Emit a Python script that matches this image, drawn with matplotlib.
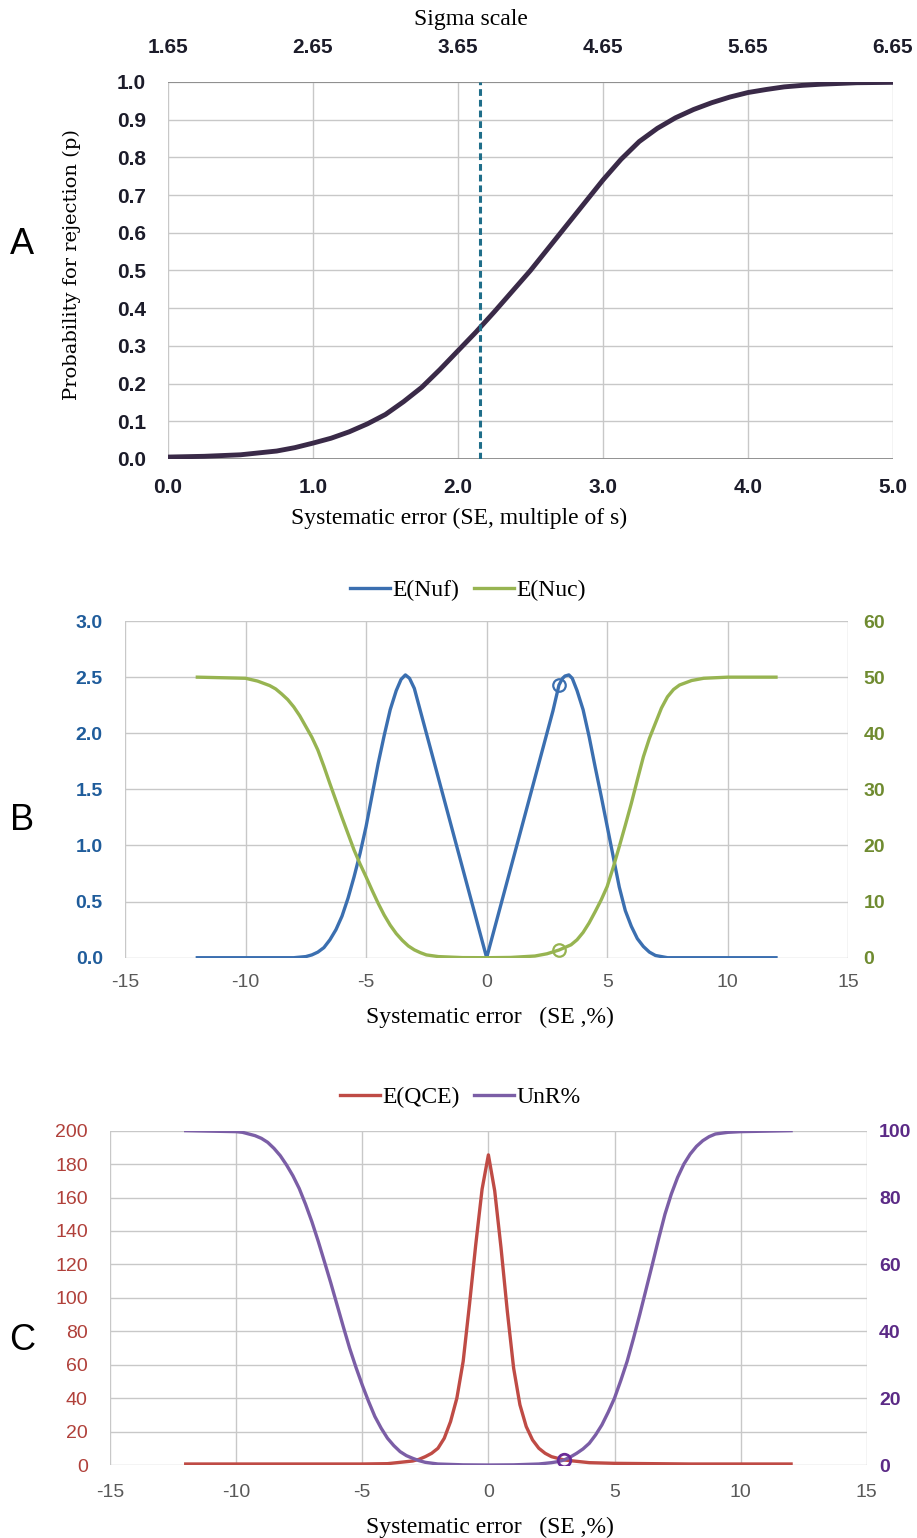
import matplotlib
matplotlib.use("Agg")
import matplotlib.pyplot as plt

# ---- panel A: probability for rejection vs systematic error
A_SE = [0.0, 0.25, 0.5, 0.75, 0.875, 1.0, 1.125, 1.25, 1.375, 1.5, 1.625, 1.75, 1.875,
        2.0, 2.125, 2.25, 2.375, 2.5, 2.625, 2.75, 2.875, 3.0, 3.125, 3.25, 3.375, 3.5,
        3.625, 3.75, 3.875, 4.0, 4.125, 4.25, 4.375, 4.5, 4.75, 5.0]
A_P = [0.005, 0.007, 0.011, 0.021, 0.03, 0.042, 0.055, 0.072, 0.093, 0.118, 0.152,
       0.19, 0.237, 0.287, 0.337, 0.39, 0.445, 0.5, 0.56, 0.62, 0.68, 0.74, 0.795, 0.842,
       0.877, 0.905, 0.927, 0.945, 0.96, 0.972, 0.98, 0.987, 0.991, 0.994, 0.998, 0.999]
A_CRIT = 2.15
A_TICKS = [0.0, 1.0, 2.0, 3.0, 4.0, 5.0]
SIGMA_LABELS = ["1.65", "2.65", "3.65", "4.65", "5.65", "6.65"]

# ---- panel B: E(Nuf) (left axis) and E(Nuc) (right axis)
B_NUF_X = [-12, -10, -8, -7.5, -7.25, -7, -6.75, -6.5, -6.25, -6, -5.75, -5.5, -5.25,
           -5, -4.75, -4.5, -4.25, -4, -3.75, -3.55, -3.37, -3.2, -3, -2.75, -2.5, -2,
           -1.5, -1, -0.5, 0, 0.5, 1, 1.5, 2, 2.5, 2.75, 3.0, 3.15, 3.25, 3.41, 3.55,
           3.75, 4, 4.25, 4.5, 4.75, 5, 5.25, 5.5, 5.75, 6, 6.25, 6.5, 6.75, 7, 7.5, 8,
           10, 12]
B_NUF = [0, 0, 0, 0.01, 0.025, 0.05, 0.09, 0.16, 0.25, 0.37, 0.53, 0.72, 0.93,
         1.17, 1.45, 1.73, 1.98, 2.21, 2.38, 2.48, 2.52, 2.49, 2.40, 2.2, 2.0, 1.6,
         1.2, 0.8, 0.4, 0, 0.4, 0.8, 1.2, 1.6, 2.0, 2.2, 2.43, 2.49, 2.51, 2.52, 2.49,
         2.38, 2.21, 1.97, 1.70, 1.44, 1.17, 0.9, 0.63, 0.42, 0.28, 0.17, 0.1, 0.05,
         0.02, 0, 0, 0, 0]
B_NUC_X = [-12, -10, -9.5, -9, -8.75, -8.5, -8.25, -8, -7.75, -7.5, -7.25, -7, -6.75,
           -6.5, -6.25, -6, -5.75, -5.5, -5.25, -5, -4.75, -4.5, -4.25, -4, -3.75, -3.5,
           -3.25, -3, -2.75, -2.5, -2, -1, 0, 1, 2, 2.5, 3, 3.5, 3.75, 4, 4.25, 4.5,
           4.75, 5, 5.25, 5.5, 5.75, 6, 6.25, 6.5, 6.75, 7, 7.25, 7.5, 7.75, 8, 8.5, 9,
           10, 12]
B_NUC = [50, 49.8, 49.3, 48.5, 47.9, 47, 46, 44.7, 43.1, 41.2, 39.3, 37, 34.1,
         31, 28, 25, 22.1, 19.2, 16.7, 14.4, 12, 9.7, 7.6, 5.8, 4.3, 3.1,
         2.1, 1.4, 0.9, 0.5, 0.2, 0.02, 0, 0.05, 0.3, 0.7, 1.37, 2.3, 3.2, 4.5, 6.2, 8.2,
         10.3, 12.7, 16.1, 19.8, 23.6, 27.5, 31.7, 35.8, 39.1, 41.8, 44.5, 46.5, 47.8,
         48.6, 49.4, 49.8, 50, 50]
B_MARK_X = 3.0
B_MARK_NUF = 2.43
B_MARK_NUC = 1.37

# ---- panel C: E(QCE) (left axis) and UnR% (right axis)
C_QCE_X = [-12, -8, -5, -4, -3, -2.75, -2.5, -2.25, -2, -1.75, -1.5, -1.25, -1, -0.75,
           -0.5, -0.25, 0, 0.25, 0.5, 0.75, 1, 1.25, 1.5, 1.75, 2, 2.25, 2.5, 2.75, 3,
           4, 5, 8, 12]
C_QCE = [0.6, 0.6, 0.6, 0.8, 2.4, 3.4, 5, 7, 10, 16, 26, 40, 62, 96,
         132, 165, 185.5, 164, 130, 92, 58, 36, 23, 15, 10, 7, 5, 4, 3,
         1.4, 1, 0.6, 0.6]
C_UNR_X = [-12, -10, -9.75, -9.5, -9.25, -9, -8.75, -8.5, -8.25, -8, -7.75, -7.5, -7.25,
           -7, -6.75, -6.5, -6.25, -6, -5.75, -5.5, -5.25, -5, -4.75, -4.5, -4.25, -4,
           -3.75, -3.5, -3.25, -3, -2.75, -2.5, -2, -1, 0, 1, 2, 2.5, 2.75, 3, 3.25,
           3.5, 3.75, 4, 4.25, 4.5, 4.75, 5, 5.25, 5.5, 5.75, 6, 6.25, 6.5, 6.75, 7,
           7.25, 7.5, 7.75, 8, 8.25, 8.5, 8.75, 9, 9.5, 10, 12]
C_UNR = [100, 99.7, 99.5, 99, 98.5, 97.7, 96.5, 94.7, 92.5, 89.7, 86.5, 82.7, 78,
         72.8, 67, 60.8, 54.5, 47.9, 41.3, 34.9, 29.2, 23.9, 19, 14.5, 11, 8,
         5.8, 4, 2.8, 2, 1.3, 0.8, 0.3, 0.05, 0, 0.05, 0.3, 0.7, 1.0, 1.5, 2.4,
         3.5, 4.8, 6.5, 9, 12, 15.8, 20, 25.3, 31, 37.8, 45, 52.5, 60, 67.7, 75,
         81, 86, 90, 93, 95.3, 97, 98.2, 99, 99.5, 99.7, 100]
C_MARK_X = 3.0
C_MARK_UNR = 1.5

SE_PCT_TICKS = [-15, -10, -5, 0, 5, 10, 15]

SANS = ["Liberation Sans", "DejaVu Sans"]
SERIF = ["Liberation Serif", "DejaVu Serif"]
GRID = "#c8c8c8"


def style_box(ax):
    for s in ax.spines.values():
        s.set_visible(False)
    ax.grid(True, color=GRID, lw=1.0)
    ax.set_axisbelow(True)
    ax.tick_params(length=0)


fig = plt.figure(figsize=(9.17, 15.38), dpi=100)

# ---------------- A
axA = fig.add_axes([0.1832, 0.7016, 0.7906, 0.2451])
style_box(axA)
axA.axhline(1.0, color="#8a8a8a", lw=1.3, zorder=1)
axA.axhline(0.0, color="#8a8a8a", lw=1.3, zorder=1)
axA.plot(A_SE, A_P, color="#3a2a48", lw=3.5, solid_capstyle="round",
         solid_joinstyle="round", zorder=3)
axA.axvline(A_CRIT, color="#1f6e8a", lw=2.2, ls=(0, (2.2, 1.3)), zorder=4)
axA.set_xlim(0, 5)
axA.set_ylim(0, 1)
ink = "#1c1c2a"
tick_kw = dict(fontfamily=SANS, fontweight="bold", fontsize=15, color=ink)
axA.set_xticks(A_TICKS, [f"{v:.1f}" for v in A_TICKS], **tick_kw)
yt = [i / 10 for i in range(11)]
axA.set_yticks(yt, [f"{v:.1f}" for v in yt], **tick_kw)
axA.tick_params(axis="x", pad=14)
axA.tick_params(axis="y", pad=16)
topA = axA.twiny()
topA.set_xlim(0, 5)
topA.set_xticks(A_TICKS, SIGMA_LABELS, **tick_kw)
topA.tick_params(length=0, pad=18)
for s in topA.spines.values():
    s.set_visible(False)
fig.text(471 / 917, 1 - 20 / 1538, "Sigma scale", ha="center", va="center",
         fontsize=17, family=SERIF)
fig.text(459 / 917, 1 - 518 / 1538, "Systematic error (SE, multiple of s)", ha="center",
         va="center", fontsize=17, family=SERIF)
fig.text(72 / 917, 1 - 265 / 1538, "Probability for rejection (p)", rotation=90,
         ha="center", va="center", fontsize=14, family=["DejaVu Serif"])

# ---------------- B
axB = fig.add_axes([0.1363, 0.3773, 0.7888, 0.2189])
style_box(axB)
l1, = axB.plot(B_NUF_X, B_NUF, color="#3b6fb0", lw=2.4, solid_joinstyle="round",
               zorder=3)
axB.plot([B_MARK_X], [B_MARK_NUF], "o", ms=9, mfc="none", mec="#3b6fb0", mew=1.6,
         zorder=4)
axB.set_xlim(-15, 15)
axB.set_ylim(0, 3)
axB.set_xticks(SE_PCT_TICKS, [str(v) for v in SE_PCT_TICKS], fontfamily=SANS,
               fontsize=14, color="#595959")
byt = [i / 2 for i in range(7)]
axB.set_yticks(byt, [f"{v:.1f}" for v in byt], fontfamily=SANS, fontweight="bold",
               fontsize=14, color="#1f5c9b")
axB.tick_params(axis="x", pad=12)
axB.tick_params(axis="y", pad=16)
axB2 = axB.twinx()
l2, = axB2.plot(B_NUC_X, B_NUC, color="#97b451", lw=2.4, solid_joinstyle="round",
                zorder=3)
axB2.plot([B_MARK_X], [B_MARK_NUC], "o", ms=9, mfc="none", mec="#97b451", mew=1.6,
          zorder=4)
axB2.set_ylim(0, 60)
axB2.set_yticks(range(0, 61, 10), [str(v) for v in range(0, 61, 10)],
                fontfamily=SANS, fontweight="bold", fontsize=14, color="#6f8b30")
axB2.tick_params(length=0, pad=11)
for s in axB2.spines.values():
    s.set_visible(False)
fig.legend([l1, l2], ["E(Nuf)", "E(Nuc)"], loc="center", ncol=2, frameon=False,
           bbox_to_anchor=(468 / 917, 1 - 590 / 1538), prop={"family": SERIF, "size": 17},
           handlelength=1.7, handletextpad=0.1, columnspacing=0.6)
fig.text(490 / 917, 1 - 1017 / 1538, "Systematic error   (SE ,%)", ha="center",
         va="center", fontsize=17, family=SERIF)

# ---------------- C
axC = fig.add_axes([0.12, 0.04746, 0.8252, 0.2174])
style_box(axC)
l3, = axC.plot(C_QCE_X, C_QCE, color="#bf4b45", lw=2.4, solid_joinstyle="round",
               zorder=3)
axC.set_xlim(-15, 15)
axC.set_ylim(0, 200)
axC.set_xticks(SE_PCT_TICKS, [str(v) for v in SE_PCT_TICKS], fontfamily=SANS,
               fontsize=14, color="#595959")
axC.set_yticks(range(0, 201, 20), [str(v) for v in range(0, 201, 20)],
               fontfamily=SANS, fontsize=14, color="#b0403a")
axC.tick_params(axis="x", pad=14)
axC.tick_params(axis="y", pad=16)
axC2 = axC.twinx()
l4, = axC2.plot(C_UNR_X, C_UNR, color="#7b5ea6", lw=2.4, solid_joinstyle="round",
                zorder=3)
axC2.plot([C_MARK_X], [C_MARK_UNR], "o", ms=9, mfc="none", mec="#6a2a96", mew=2.0,
          zorder=4)
axC2.set_ylim(0, 100)
axC2.set_yticks(range(0, 101, 20), [str(v) for v in range(0, 101, 20)],
                fontfamily=SANS, fontweight="bold", fontsize=14, color="#5b2a86")
axC2.tick_params(length=0, pad=9)
for s in axC2.spines.values():
    s.set_visible(False)
fig.legend([l3, l4], ["E(QCE)", "UnR%"], loc="center", ncol=2, frameon=False,
           bbox_to_anchor=(460 / 917, 1 - 1097 / 1538), prop={"family": SERIF, "size": 17},
           handlelength=1.7, handletextpad=0.1, columnspacing=0.6)
fig.text(490 / 917, 1 - 1527 / 1538, "Systematic error   (SE ,%)", ha="center",
         va="center", fontsize=17, family=SERIF)

# panel letters
for letter, ypx in (("A", 245), ("B", 820), ("C", 1340)):
    fig.text(22 / 917, 1 - ypx / 1538, letter, ha="center", va="center",
             fontsize=26, family=SANS)

fig.savefig("out.png", dpi=100)
